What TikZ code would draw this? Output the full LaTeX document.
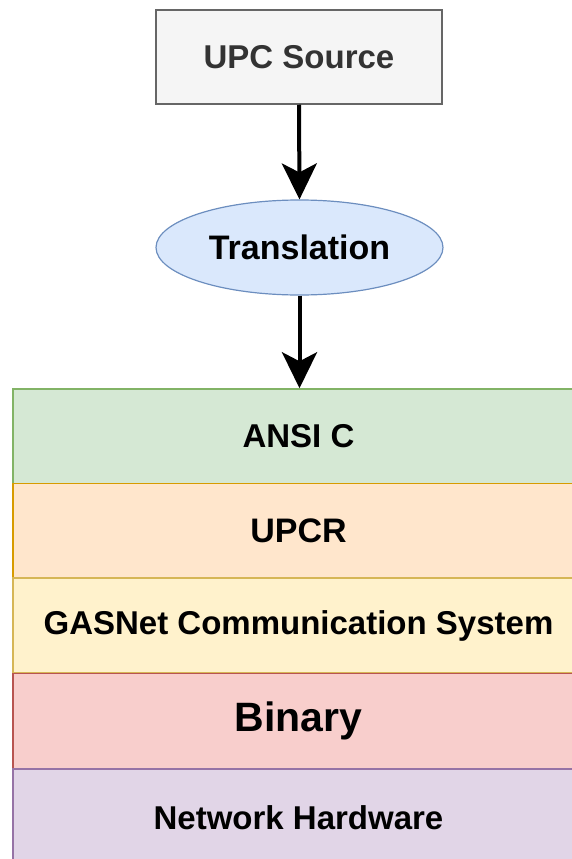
\documentclass[tikz,border=0pt]{standalone}
\usepackage{fontspec}
\setmainfont{Liberation Sans}
\usetikzlibrary{shapes.geometric,arrows.meta}

\definecolor{srcfill}{HTML}{F5F5F5}
\definecolor{srcline}{HTML}{666666}
\definecolor{srctext}{HTML}{333333}
\definecolor{blfill}{HTML}{DAE8FC}
\definecolor{blline}{HTML}{6C8EBF}
\definecolor{grfill}{HTML}{D5E8D4}
\definecolor{grline}{HTML}{82B366}
\definecolor{orfill}{HTML}{FFE6CC}
\definecolor{orline}{HTML}{D79B00}
\definecolor{yefill}{HTML}{FFF2CC}
\definecolor{yeline}{HTML}{D6B656}
\definecolor{rdfill}{HTML}{F8CECC}
\definecolor{rdline}{HTML}{B85450}
\definecolor{pufill}{HTML}{E1D5E7}
\definecolor{puline}{HTML}{9673A6}

\tikzset{
  lbl/.style={font=\fontsize{33}{36}\selectfont\bfseries},
  layer/.style={rectangle, draw=#1line, fill=#1fill, line width=1.5pt,
    minimum width=571pt, minimum height=95pt, inner sep=0pt, lbl},
  flow/.style={line width=4pt, -{Stealth[length=36pt,width=35pt,inset=9pt]}},
}

\begin{document}
\begin{tikzpicture}[x=1pt,y=-1pt]
\useasboundingbox (0,0) rectangle (572,859);
\clip (0,0) rectangle (572,859);

% source file
\node[rectangle, draw=srcline, fill=srcfill, line width=1.5pt,
      minimum width=286pt, minimum height=94pt, inner sep=0pt,
      lbl, text=srctext] (src) at (299,57) {\raisebox{-2pt}{UPC Source}};

% translation step
\node[ellipse, draw=blline, fill=blfill, line width=1.2pt,
      minimum width=287pt, minimum height=95pt, inner sep=0pt,
      font=\fontsize{34}{36}\selectfont\bfseries] (tr) at (299.5,247.5) {Translation};

% layer stack
\node[layer=gr] (ansi) at (298.5,436.5) {ANSI C};
\node[layer=or, font=\fontsize{34}{36}\selectfont\bfseries] (upcr) at (298.5,531) {UPCR};
\node[layer=ye] (gas) at (298.5,625.5) {\raisebox{-4pt}{GASNet Communication System}};
\node[layer=rd, font=\fontsize{41}{44}\selectfont\bfseries] (bin) at (298.5,721) {\raisebox{-3pt}{Binary}};
\node[layer=pu, minimum height=98pt] (net) at (298.5,818) {Network Hardware};

% connectors
\draw[flow] (src.south) -- (tr.north);
\draw[flow] (tr.south) -- (ansi.north -| tr.south);
\end{tikzpicture}
\end{document}
